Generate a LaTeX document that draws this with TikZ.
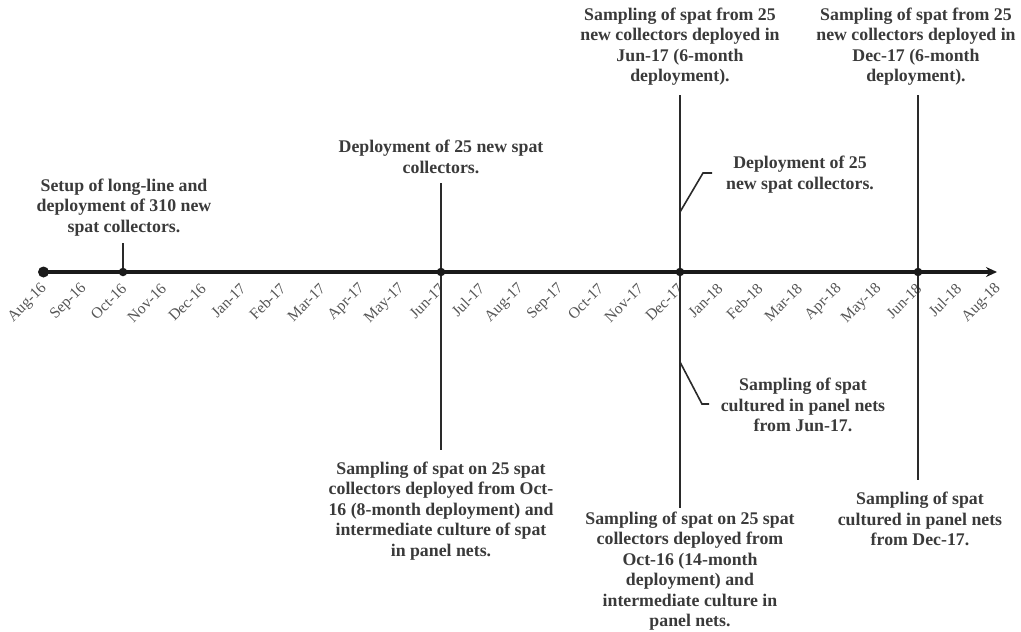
\documentclass[tikz,border=0pt]{standalone}
\usepackage{fontspec}
\setmainfont{Liberation Serif}
\usetikzlibrary{arrows.meta}
\definecolor{txt}{HTML}{3A3A3A}
\definecolor{tickc}{HTML}{555555}
\definecolor{linec}{HTML}{2A2A2A}
\definecolor{axisc}{HTML}{1A1A1A}
\begin{document}
\begin{tikzpicture}[x=1pt,y=-1pt,
  lab/.style={align=center, font=\bfseries\fontsize{17.8}{20.5}\selectfont, text=txt, inner sep=0pt},
  ticklab/.style={anchor=east, rotate=45, font=\fontsize{15.5}{16}\selectfont, text=tickc, inner sep=0pt},
  conn/.style={draw=linec, line width=1.6pt},
  bigdot/.style={circle, fill=axisc, inner sep=0pt, minimum size=11pt},
  evdot/.style={circle, fill=axisc, inner sep=0pt, minimum size=8.5pt}]
\useasboundingbox (0,0) rectangle (1021,632);

% month labels
\foreach \lab [count=\i from 0] in {Aug-16,Sep-16,Oct-16,Nov-16,Dec-16,Jan-17,Feb-17,Mar-17,Apr-17,May-17,Jun-17,Jul-17,Aug-17,Sep-17,Oct-17,Nov-17,Dec-17,Jan-18,Feb-18,Mar-18,Apr-18,May-18,Jun-18,Jul-18,Aug-18}
  \node[ticklab] (t\i) at ({44.5+39.75*\i},286) {\lab};

% axis
\coordinate (axend) at (997,272);
\node[bigdot] (d0) at (43.5,272) {};
\draw[draw=axisc, line width=3.6pt, -{Stealth[length=11pt,width=10pt]}] (d0.center) -- (axend);

% event dots
\node[evdot] (doct) at (123,272) {};
\node[evdot] (djun17) at (441,272) {};
\node[evdot] (ddec17) at (680,272) {};
\node[evdot] (djun18) at (918,272) {};

% line end points
\coordinate (eoct) at (123,243);
\coordinate (ejunT) at (441,183);
\coordinate (ejunB) at (441,450);
\coordinate (edecT) at (680,95);
\coordinate (edecB) at (680,508);
\coordinate (ejun18T) at (918,95);
\coordinate (ejun18B) at (918,480);
\coordinate (bu0) at (680,212);
\coordinate (bu1) at (703,173);
\coordinate (bu2) at (712,173);
\coordinate (bd0) at (680,362);
\coordinate (bd1) at (702,404);
\coordinate (bd2) at (709,404);

% connectors
\draw[conn] (eoct) -- (doct);
\draw[conn] (ejunT) -- (djun17) -- (ejunB);
\draw[conn] (edecT) -- (ddec17) -- (edecB);
\draw[conn] (ejun18T) -- (djun18) -- (ejun18B);
\draw[conn] (bu0) -- (bu1) -- (bu2);
\draw[conn] (bd0) -- (bd1) -- (bd2);

% labels
\node[lab] (setup) at (124,207.5) {Setup of long-line and\\deployment of 310 new\\spat collectors.};
\node[lab] (dep1) at (441,157) {Deployment of 25 new spat\\collectors.};
\node[lab] (samp1) at (441,511) {Sampling of spat on 25 spat\\collectors deployed from Oct-\\16 (8-month deployment) and\\intermediate culture of spat\\in panel nets.};
\node[lab] (samp2) at (680,46.5) {Sampling of spat from 25\\new collectors deployed in\\Jun-17 (6-month\\deployment).};
\node[lab] (dep2) at (800,174.5) {Deployment of 25\\new spat collectors.};
\node[lab] (cult1) at (803,405) {Sampling of spat\\cultured in panel nets\\from Jun-17.};
\node[lab] (samp3) at (690,571) {Sampling of spat on 25 spat\\collectors deployed from\\Oct-16 (14-month\\deployment) and\\intermediate culture in\\panel nets.};
\node[lab] (samp4) at (916,46.5) {Sampling of spat from 25\\new collectors deployed in\\Dec-17 (6-month\\deployment).};
\node[lab] (cult2) at (920,519) {Sampling of spat\\cultured in panel nets\\from Dec-17.};
\end{tikzpicture}
\end{document}
